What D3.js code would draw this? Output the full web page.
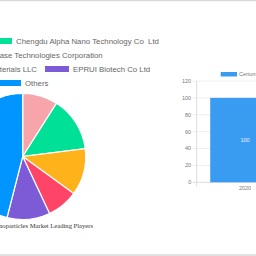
<!DOCTYPE html>
<html>
<head>
<meta charset="utf-8">
<script src="https://cdn.jsdelivr.net/npm/d3@7"></script>
<style>
  body { margin: 0; background: #fff; }
  svg { display: block; font-family: "Liberation Sans", Arial, sans-serif; }
</style>
</head>
<body>
<div id="chart"></div>
<script>
/* Pie of leading players + single-bar market size chart (cropped view). */

const players = ["Cerion LLC", "Chengdu Alpha Nano Technology Co  Ltd",
  "Nanophase Technologies Corporation", "Inframat Advanced Materials LLC",
  "EPRUI Biotech Co Ltd", "Others"];
const shares = [9, 14, 12, 8, 11, 46];
const pieColors = ["#f7a5aa", "#00e096", "#ffb21a", "#ff4567", "#7d5bd6", "#0095ff"];

const years = ["2020"];
const marketSize = [100];
const yTicks = [0, 20, 40, 60, 80, 100, 120];
const barSeries = "Cerium Oxide Nanoparticles Market";
const pieTitle = "Cerium Oxide Nanoparticles Market Leading Players";

const width = 256, height = 256;

const svg = d3.select("#chart")
  .append("svg")
  .attr("width", width)
  .attr("height", height)
  .attr("viewBox", [0, 0, width, height]);

// frame lines top and bottom
svg.append("line").attr("x1", 0).attr("x2", width).attr("y1", 0.5).attr("y2", 0.5)
  .attr("stroke", "#d8d8d8").attr("stroke-width", 1.5);
svg.append("line").attr("x1", 0).attr("x2", width).attr("y1", 255).attr("y2", 255)
  .attr("stroke", "#d8d8d8").attr("stroke-width", 1.5);

// ---- pie legend (rows centred in a wider page, so the left side is cut off) ----
// anchor: which item in the row is pinned, and where its swatch (or text end) sits
const legendRows = [
  { y: 41, items: [0, 1], anchor: 1, swatchX: -12 },
  { y: 55, items: [2], anchor: 2, textEnd: 102.7 },
  { y: 69, items: [3, 4], anchor: 4, swatchX: 45 },
  { y: 83, items: [5], anchor: 5, swatchX: -3 }
];
const boxW = 24, boxH = 6, gap = 4, itemGap = 8;
const legend = svg.append("g").attr("font-size", 7.8).attr("fill", "#666");

legendRows.forEach(row => {
  const g = legend.append("g");
  let x = 0, anchorX = 0;
  row.items.forEach(i => {
    g.append("rect")
      .attr("x", x).attr("y", row.y - boxH / 2)
      .attr("width", boxW).attr("height", boxH)
      .attr("fill", pieColors[i]);
    const t = g.append("text")
      .attr("x", x + boxW + gap).attr("y", row.y)
      .attr("dy", "0.35em")
      .style("white-space", "pre")
      .text(players[i]);
    const w = t.node().getComputedTextLength();
    if (i === row.anchor) {
      anchorX = row.textEnd !== undefined ? row.textEnd - (x + boxW + gap + w) : row.swatchX - x;
    }
    x += boxW + gap + w + itemGap;
  });
  g.attr("transform", `translate(${anchorX},0)`);
});

// ---- pie ----
const cx = 22.7, cy = 156.5, r = 63;
const pie = d3.pie().sort(null).value(d => d)(shares);
const arc = d3.arc().innerRadius(0).outerRadius(r);

svg.append("g")
  .attr("transform", `translate(${cx},${cy})`)
  .selectAll("path")
  .data(pie)
  .join("path")
  .attr("d", arc)
  .attr("fill", (d, i) => pieColors[i])
  .attr("stroke", "#fff")
  .attr("stroke-width", 1.2);

svg.append("text")
  .attr("x", 93).attr("y", 227.5)
  .attr("text-anchor", "end")
  .attr("font-family", "'Liberation Serif', 'Times New Roman', serif")
  .attr("font-size", 6.6)
  .attr("fill", "#333")
  .text(pieTitle);

// ---- bar chart ----
const axisX = 196.7;
const y = d3.scaleLinear().domain([0, 120]).range([182.3, 81]);
const x = d3.scaleBand().domain(years).range([axisX, 293.3]).padding(0);
const barW = x.bandwidth() * 0.72;

// grid lines
svg.append("g")
  .selectAll("line")
  .data(yTicks)
  .join("line")
  .attr("x1", axisX - 4).attr("x2", width)
  .attr("y1", d => y(d)).attr("y2", d => y(d))
  .attr("stroke", d => d === 0 ? "#dcdcdc" : "#eeeeee")
  .attr("stroke-width", 1);

// y axis line
svg.append("line")
  .attr("x1", axisX).attr("x2", axisX)
  .attr("y1", y(120)).attr("y2", y(0) + 4)
  .attr("stroke", "#dcdcdc");

svg.append("g")
  .attr("font-size", 5.5).attr("fill", "#777").attr("text-anchor", "end")
  .selectAll("text")
  .data(yTicks)
  .join("text")
  .attr("x", axisX - 5.5)
  .attr("y", d => y(d))
  .attr("dy", "0.35em")
  .text(d => d);

svg.selectAll(".bar")
  .data(marketSize)
  .join("rect")
  .attr("class", "bar")
  .attr("x", (d, i) => x(years[i]) + x.bandwidth() / 2 - barW / 2)
  .attr("y", d => y(d))
  .attr("width", barW)
  .attr("height", d => y(0) - y(d))
  .attr("fill", "#3a9cf0");

svg.selectAll(".bar-label")
  .data(marketSize)
  .join("text")
  .attr("class", "bar-label")
  .attr("x", (d, i) => x(years[i]) + x.bandwidth() / 2)
  .attr("y", d => (y(d) + y(0)) / 2)
  .attr("dy", "0.35em")
  .attr("text-anchor", "middle")
  .attr("font-size", 5.5)
  .attr("fill", "#e6f2ff")
  .text(d => d);

svg.append("g")
  .attr("font-size", 5.5).attr("fill", "#777").attr("text-anchor", "middle")
  .selectAll("text")
  .data(years)
  .join("text")
  .attr("x", d => x(d) + x.bandwidth() / 2)
  .attr("y", y(0) + 8)
  .text(d => d);

// bar legend
svg.append("rect")
  .attr("x", 220.7).attr("y", 72)
  .attr("width", 16.3).attr("height", 4.5)
  .attr("fill", "#3a9cf0");
svg.append("text")
  .attr("x", 239).attr("y", 74.3)
  .attr("dy", "0.35em")
  .attr("font-size", 5.5).attr("fill", "#777")
  .text(barSeries);
</script>
</body>
</html>
